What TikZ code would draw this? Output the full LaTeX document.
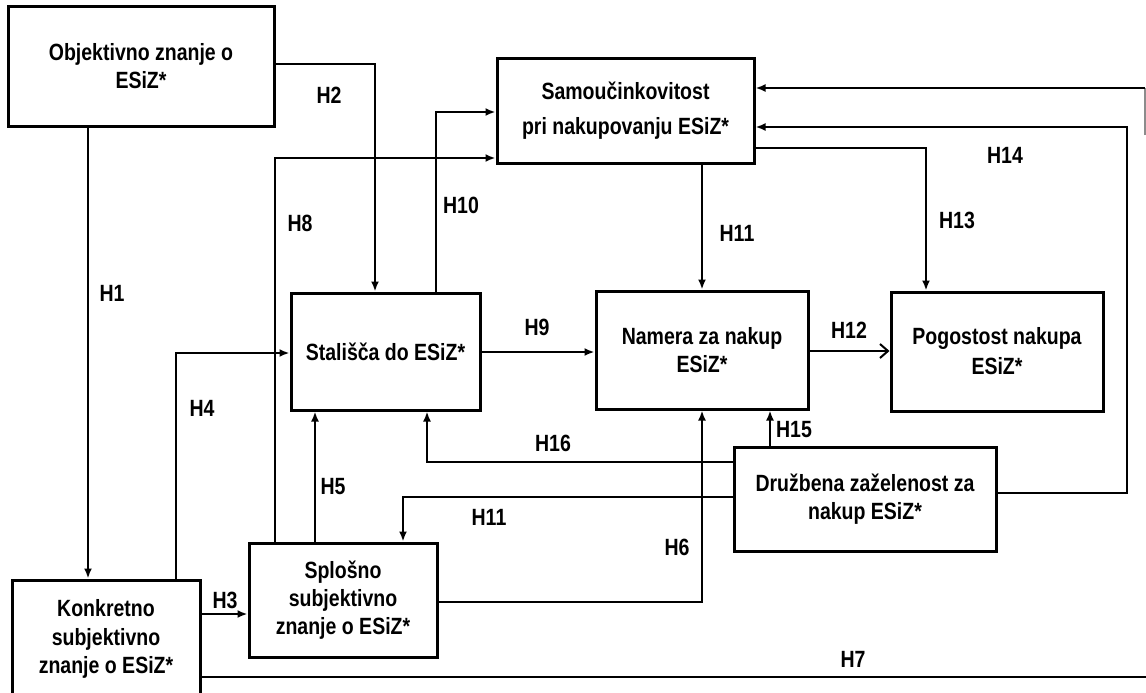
\documentclass[tikz,border=0pt]{standalone}
\usepackage{fontspec}
\setmainfont[FakeStretch=0.83]{Liberation Sans}
\usetikzlibrary{arrows.meta}
\begin{document}
\begin{tikzpicture}[x=1pt,y=-1pt,
  every node/.style={font=\fontsize{23.5}{28}\selectfont\bfseries},
  box/.style={draw,line width=3pt,align=center,inner sep=0pt},
  arr/.style={line width=2pt,-{Latex[length=10pt,width=8pt]}},
  openarr/.style={line width=2pt,-{Straight Barb[length=8pt,width=14pt,line width=2pt]}},
  plain/.style={line width=2pt},
  lbl/.style={inner sep=0pt}]
\useasboundingbox (0,0) rectangle (1146,693);
% boxes
\node[box,minimum width=266pt,minimum height=119pt] (obj) at (141,66.5) {Objektivno znanje o\\ESiZ*};
\node[box,minimum width=257pt,minimum height=104pt,font=\fontsize{23.5}{35}\selectfont\bfseries] (samo) at (625.5,111) {Samoučinkovitost\\pri nakupovanju ESiZ*};
\node[box,minimum width=189pt,minimum height=117pt] (stal) at (385.5,351.5) {Stališča do ESiZ*};
\node[box,minimum width=212pt,minimum height=118pt] (nam) at (702,350) {Namera za nakup\\ESiZ*};
\node[box,minimum width=212pt,minimum height=119pt,font=\fontsize{23.5}{30}\selectfont\bfseries] (pog) at (997,351.5) {Pogostost nakupa\\ESiZ*};
\node[box,minimum width=262pt,minimum height=104pt] (druz) at (865,499) {Družbena zaželenost za\\nakup ESiZ*};
\node[box,minimum width=188pt,minimum height=114pt] (splo) at (343,600) {Splošno\\subjektivno\\znanje o ESiZ*};
\node[box,minimum width=188pt,minimum height=118pt,font=\fontsize{23.5}{28.5}\selectfont\bfseries] (konk) at (106,639) {Konkretno\\subjektivno\\znanje o ESiZ*};
% bend coordinates
\coordinate (h1x) at (88,0);
\coordinate (h2) at (375,64);
\coordinate (h3y) at (0,614);
\coordinate (h4) at (176,353);
\coordinate (h5x) at (315,0);
\coordinate (h6) at (702,602);
\coordinate (h7e) at (1150,677);
\coordinate (h8) at (275,158);
\coordinate (h9y) at (0,352);
\coordinate (h10) at (436,112);
\coordinate (h11x) at (702,0);
\coordinate (h11b) at (403,497);
\coordinate (h12y) at (0,351);
\coordinate (h13) at (926,148);
\coordinate (h14a) at (1127,493);
\coordinate (h14b) at (1127,127);
\coordinate (t1) at (1145,135);
\coordinate (t2) at (1145,88);
\coordinate (h15x) at (770,0);
\coordinate (h16) at (427,462);
% connectors
\draw[arr] (h1x |- obj.south) -- (h1x |- konk.north);
\draw[arr] (obj.east |- h2) -- (h2) -- (h2 |- stal.north);
\draw[arr] (konk.east |- h3y) -- (splo.west |- h3y);
\draw[arr] (h4 |- konk.north) -- (h4) -- (stal.west |- h4);
\draw[arr] (h5x |- splo.north) -- (h5x |- stal.south);
\draw[arr] (splo.east |- h6) -- (h6) -- (h6 |- nam.south);
\draw[line width=2.6pt] (konk.east |- h7e) -- (h7e);
\draw[arr] (h8 |- splo.north) -- (h8) -- (samo.west |- h8);
\draw[arr] (stal.east |- h9y) -- (nam.west |- h9y);
\draw[arr] (h10 |- stal.north) -- (h10) -- (samo.west |- h10);
\draw[arr] (h11x |- samo.south) -- (h11x |- nam.north);
\draw[arr] (druz.west |- h11b) -- (h11b) -- (h11b |- splo.north);
\draw[openarr] (nam.east |- h12y) -- (pog.west |- h12y);
\draw[arr] (samo.east |- h13) -- (h13) -- (h13 |- pog.north);
\draw[arr] (druz.east |- h14a) -- (h14a) -- (h14b) -- (samo.east |- h14b);
\draw[plain,black!45] (t1) -- (t2);
\draw[arr] (t2) -- (samo.east |- t2);
\draw[arr] (h15x |- druz.north) -- (h15x |- nam.south);
\draw[arr] (druz.west |- h16) -- (h16) -- (h16 |- stal.south);
% labels
\node[lbl] (lH1) at (112,293) {H1};
\node[lbl] (lH2) at (329,95) {H2};
\node[lbl] (lH3) at (225,600) {H3};
\node[lbl] (lH4) at (202,408) {H4};
\node[lbl] (lH5) at (333,487) {H5};
\node[lbl] (lH6) at (677,547) {H6};
\node[lbl] (lH7) at (853,659) {H7};
\node[lbl] (lH8) at (300,223) {H8};
\node[lbl] (lH9) at (537,327) {H9};
\node[lbl] (lH10) at (461,205) {H10};
\node[lbl] (lH11) at (737,233) {H11};
\node[lbl] (lH11b) at (489,517) {H11};
\node[lbl] (lH12) at (849,330) {H12};
\node[lbl] (lH13) at (957,220) {H13};
\node[lbl] (lH14) at (1005,155) {H14};
\node[lbl] (lH15) at (794,430) {H15};
\node[lbl] (lH16) at (553,443) {H16};
\end{tikzpicture}
\end{document}
